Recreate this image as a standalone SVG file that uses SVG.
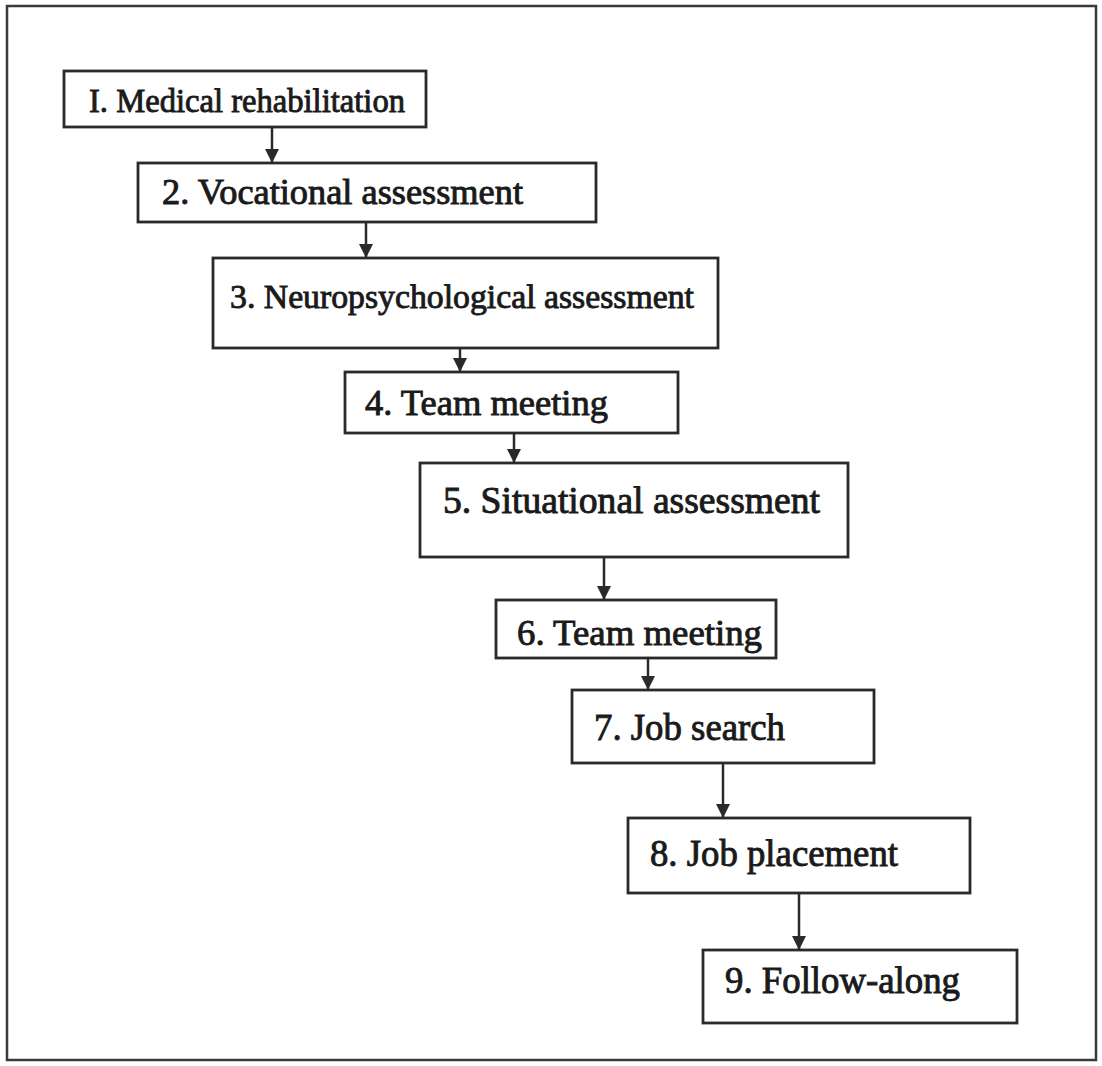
<svg xmlns="http://www.w3.org/2000/svg" width="1102" height="1066" viewBox="0 0 1102 1066">
  <style>
    .frame { fill: #ffffff; stroke: #3a3a3a; stroke-width: 2.5; }
    .box { fill: #ffffff; stroke: #2a2a2a; stroke-width: 2.8; }
    .label { font-family: "Liberation Serif", "Times New Roman", serif; fill: #1a1a1a; stroke: #1a1a1a; stroke-width: 0.9; }
    .link { stroke: #2a2a2a; stroke-width: 2.5; fill: none; }
  </style>
  <defs>
    <marker id="head" viewBox="0 0 10 10" refX="10" refY="5" markerWidth="5.8" markerHeight="5.8" orient="auto" markerUnits="strokeWidth">
      <path d="M0,0 L10,5 L0,10 Z" fill="#2a2a2a"/>
    </marker>
  </defs>

  <rect width="1102" height="1066" fill="#ffffff"/>
  <rect class="frame" x="7" y="6" width="1089" height="1054"/>

  <!-- connectors between successive steps -->
  <g id="connectors">
    <line class="link" x1="272" y1="127" x2="272" y2="163" marker-end="url(#head)"/>
    <line class="link" x1="366" y1="222" x2="366" y2="258" marker-end="url(#head)"/>
    <line class="link" x1="460" y1="348" x2="460" y2="372" marker-end="url(#head)"/>
    <line class="link" x1="514" y1="433" x2="514" y2="463" marker-end="url(#head)"/>
    <line class="link" x1="604" y1="557" x2="604" y2="600" marker-end="url(#head)"/>
    <line class="link" x1="648" y1="658" x2="648" y2="690" marker-end="url(#head)"/>
    <line class="link" x1="723" y1="763" x2="723" y2="818" marker-end="url(#head)"/>
    <line class="link" x1="799" y1="893" x2="799" y2="950" marker-end="url(#head)"/>
  </g>

  <g id="step1">
    <rect class="box" x="64" y="71" width="362" height="56"/>
    <text class="label" x="89" y="112" font-size="34" textLength="316" lengthAdjust="spacingAndGlyphs">I. Medical rehabilitation</text>
  </g>
  <g id="step2">
    <rect class="box" x="138" y="163" width="458" height="59"/>
    <text class="label" x="162" y="204" font-size="35" textLength="361" lengthAdjust="spacingAndGlyphs">2. Vocational assessment</text>
  </g>
  <g id="step3">
    <rect class="box" x="213" y="258" width="505" height="90"/>
    <text class="label" x="230" y="308" font-size="34" textLength="464" lengthAdjust="spacingAndGlyphs">3. Neuropsychological assessment</text>
  </g>
  <g id="step4">
    <rect class="box" x="345" y="372" width="333" height="61"/>
    <text class="label" x="365" y="415" font-size="36" textLength="243" lengthAdjust="spacingAndGlyphs">4. Team meeting</text>
  </g>
  <g id="step5">
    <rect class="box" x="420" y="463" width="428" height="94"/>
    <text class="label" x="443" y="513" font-size="37" textLength="377" lengthAdjust="spacingAndGlyphs">5. Situational assessment</text>
  </g>
  <g id="step6">
    <rect class="box" x="496" y="600" width="280" height="58"/>
    <text class="label" x="517" y="645" font-size="36" textLength="245" lengthAdjust="spacingAndGlyphs">6. Team meeting</text>
  </g>
  <g id="step7">
    <rect class="box" x="572" y="690" width="302" height="73"/>
    <text class="label" x="594" y="740" font-size="37" textLength="191" lengthAdjust="spacingAndGlyphs">7. Job search</text>
  </g>
  <g id="step8">
    <rect class="box" x="628" y="818" width="342" height="75"/>
    <text class="label" x="650" y="866" font-size="37" textLength="248" lengthAdjust="spacingAndGlyphs">8. Job placement</text>
  </g>
  <g id="step9">
    <rect class="box" x="703" y="950" width="314" height="73"/>
    <text class="label" x="725" y="993" font-size="37" textLength="235" lengthAdjust="spacingAndGlyphs">9. Follow-along</text>
  </g>
</svg>
